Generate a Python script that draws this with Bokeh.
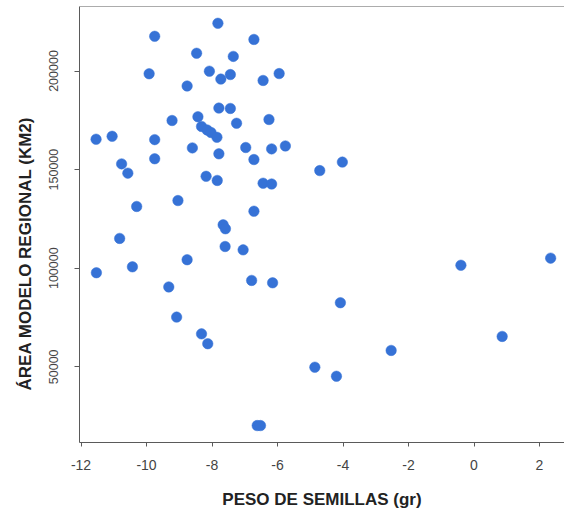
import math
from bokeh.plotting import figure
from bokeh.models import FixedTicker, Span, Title, Range1d, NumeralTickFormatter
from bokeh.embed import file_html
from bokeh.resources import INLINE

# Seed weight (x) and regional model area (y)
peso = [-7.82, -9.75, -6.72, -8.47, -7.35, -9.92, -8.08, -7.73, -7.44, -6.44,
        -5.95, -8.76, -7.79, -7.44, -9.22, -8.43, -8.32, -8.15, -8.03, -7.85,
        -7.25, -6.26, -11.54, -11.05, -9.75, -9.75, -8.60, -7.79, -6.97, -6.72,
        -6.18, -5.76, -10.76, -10.57, -8.18, -7.84, -6.44, -6.18, -4.71, -4.02,
        -9.04, -10.30, -6.72, -7.66, -7.59, -10.82, -7.60, -7.05, -8.76, -11.53,
        -10.43, -9.32, -6.79, -6.15, -9.08, -8.32, -8.13, -6.62, -6.52, 2.34,
        -0.40, -4.08, 0.86, -2.53, -4.86, -4.20]
area = [224200, 217600, 216000, 209000, 207400, 198600, 199900, 195900, 198200, 195200,
        198700, 192400, 181200, 181000, 174900, 176800, 171900, 170100, 168800, 166400,
        173500, 175400, 165400, 166900, 165200, 155500, 161000, 158000, 161200, 155100,
        160500, 162000, 152900, 148200, 146600, 144500, 143100, 142700, 149500, 153800,
        134300, 131300, 128900, 122000, 120000, 115100, 111000, 109300, 104300, 97700,
        100700, 90500, 93800, 92600, 75200, 66700, 61700, 20200, 20200, 105100,
        101500, 82500, 65400, 58300, 49800, 45200]

x_ticks = [-12, -10, -8, -6, -4, -2, 0, 2]
y_ticks = [50000, 100000, 150000, 200000]
x_title = "PESO DE SEMILLAS (gr)"
y_title = "ÁREA MODELO REGIONAL (KM2)"

X_MIN, X_MAX = -12.046, 2.763
Y_MIN, Y_MAX = 11610, 232710

FONT = "Liberation Sans"
AXIS_COLOR = "#5a5a5a"
H = 512

p = figure(width=564, height=H, output_backend="svg", toolbar_location=None,
           x_range=Range1d(X_MIN, X_MAX), y_range=Range1d(Y_MIN, Y_MAX),
           min_border_left=79, min_border_right=0, min_border_top=6,
           min_border_bottom=70, background_fill_color="white",
           border_fill_color="white")
p.outline_line_color = None
p.xgrid.grid_line_color = None
p.ygrid.grid_line_color = None

p.scatter(peso, area, size=10.5, fill_color="#3672d6", line_color="#3672d6",
          line_width=0.5)

# top frame line
p.add_layout(Span(location=Y_MAX, dimension="width", line_color=AXIS_COLOR,
                  line_width=1))

xa = p.xaxis[0]
xa.ticker = FixedTicker(ticks=x_ticks)
xa.major_label_overrides = {t: str(t) for t in x_ticks}
xa.axis_line_color = AXIS_COLOR
xa.major_tick_line_color = AXIS_COLOR
xa.major_tick_out = 4
xa.major_tick_in = 0
xa.minor_tick_line_color = None
xa.major_label_standoff = 13
xa.major_label_text_font = FONT
xa.major_label_text_font_size = "14px"
xa.major_label_text_color = "#444444"
xa.axis_label = x_title
xa.axis_label_text_font = FONT
xa.axis_label_text_font_style = "bold"
xa.axis_label_text_font_size = "17px"
xa.axis_label_text_color = "#222222"
xa.axis_label_standoff = 17

ya = p.yaxis[0]
ya.ticker = FixedTicker(ticks=y_ticks)
ya.formatter = NumeralTickFormatter(format="0")
ya.axis_line_color = AXIS_COLOR
ya.major_tick_line_color = AXIS_COLOR
ya.major_tick_out = 5
ya.major_tick_in = 0
ya.minor_tick_line_color = None
ya.major_label_orientation = "vertical"
ya.major_label_standoff = 16
ya.major_label_text_font = FONT
ya.major_label_text_font_size = "12.5px"
ya.major_label_text_color = "#444444"

p.add_layout(Title(text=y_title, align="left", offset=52, standoff=20,
                   vertical_align="top",
                   text_font=FONT, text_font_style="bold",
                   text_font_size="17px", text_color="#222222"), "left")

open("out.html", "w").write(file_html(p, INLINE))
